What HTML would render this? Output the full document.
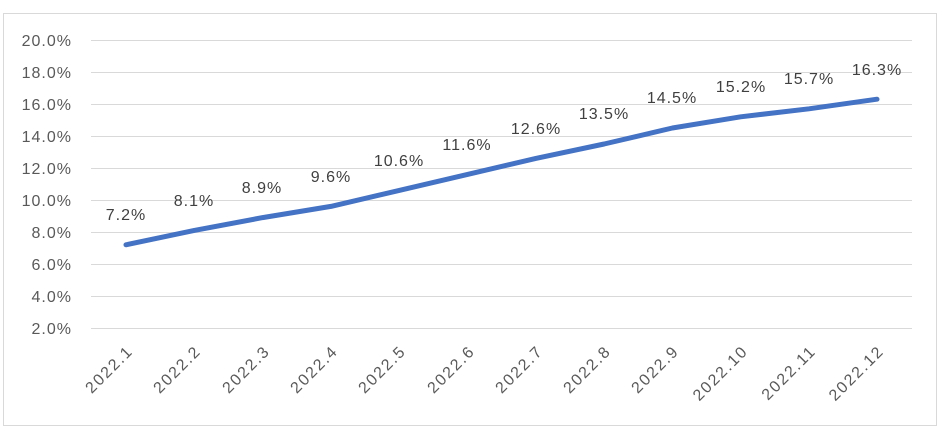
<!DOCTYPE html>
<html><head><meta charset="utf-8"><style>
html,body{margin:0;padding:0;background:#fff;}
svg{display:block;font-family:"Liberation Sans",sans-serif;}
</style></head><body>
<svg width="947" height="434" xmlns="http://www.w3.org/2000/svg">
<rect x="3.5" y="13.5" width="933" height="412" fill="#fff" stroke="#d9d9d9" stroke-width="1"/>
<g stroke="#d9d9d9" stroke-width="1">
<line x1="91" x2="912" y1="40.5" y2="40.5"/><line x1="91" x2="912" y1="72.5" y2="72.5"/>
<line x1="91" x2="912" y1="104.5" y2="104.5"/><line x1="91" x2="912" y1="136.5" y2="136.5"/>
<line x1="91" x2="912" y1="168.5" y2="168.5"/><line x1="91" x2="912" y1="200.5" y2="200.5"/>
<line x1="91" x2="912" y1="232.5" y2="232.5"/><line x1="91" x2="912" y1="264.5" y2="264.5"/>
<line x1="91" x2="912" y1="296.5" y2="296.5"/><line x1="91" x2="912" y1="328.5" y2="328.5"/>
</g>
<g fill="#595959" font-size="16" letter-spacing="1" text-anchor="end">
<text x="72" y="46">20.0%</text><text x="72" y="78">18.0%</text><text x="72" y="110">16.0%</text>
<text x="72" y="142">14.0%</text><text x="72" y="174">12.0%</text><text x="72" y="206">10.0%</text>
<text x="72" y="238">8.0%</text><text x="72" y="270">6.0%</text><text x="72" y="302">4.0%</text>
<text x="72" y="334">2.0%</text>
</g>
<polyline fill="none" stroke="#4472c4" stroke-width="5" stroke-linecap="round" stroke-linejoin="round"
points="126,244.8 194.3,230.4 262.6,217.6 330.9,206.4 399.2,190.4 467.5,174.4 535.8,158.4 604.1,144 672.4,128 740.7,116.8 809,108.8 877,99.2"/>
<g fill="#404040" font-size="16" letter-spacing="1" text-anchor="middle">
<text x="126" y="220">7.2%</text><text x="194" y="206">8.1%</text><text x="262" y="193">8.9%</text>
<text x="331" y="182">9.6%</text><text x="399" y="166">10.6%</text><text x="467" y="150">11.6%</text>
<text x="536" y="134">12.6%</text><text x="604" y="119">13.5%</text><text x="672" y="103">14.5%</text>
<text x="741" y="92">15.2%</text><text x="809" y="84">15.7%</text><text x="877" y="75">16.3%</text>
</g>
<g fill="#595959" font-size="16" letter-spacing="1.8" text-anchor="end">
<text transform="translate(134,352) rotate(-45)">2022.1</text>
<text transform="translate(202,352) rotate(-45)">2022.2</text>
<text transform="translate(271,352) rotate(-45)">2022.3</text>
<text transform="translate(339,352) rotate(-45)">2022.4</text>
<text transform="translate(407,352) rotate(-45)">2022.5</text>
<text transform="translate(476,352) rotate(-45)">2022.6</text>
<text transform="translate(544,352) rotate(-45)">2022.7</text>
<text transform="translate(612,352) rotate(-45)">2022.8</text>
<text transform="translate(680,352) rotate(-45)">2022.9</text>
<text transform="translate(749,352) rotate(-45)">2022.10</text>
<text transform="translate(817,352) rotate(-45)">2022.11</text>
<text transform="translate(885,352) rotate(-45)">2022.12</text>
</g>
</svg>
</body></html>
